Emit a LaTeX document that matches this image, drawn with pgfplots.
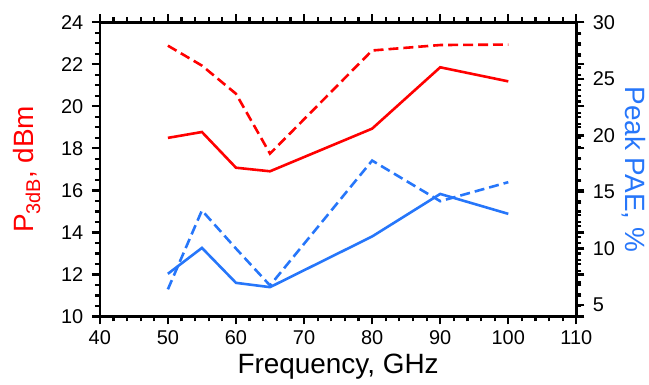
\documentclass[border={10pt 2pt 0pt 12pt}]{standalone}
\usepackage{pgfplots}
\pgfplotsset{compat=1.18}
\usepackage{fontspec}
\setmainfont{Liberation Sans}
\definecolor{myred}{RGB}{255,0,0}
\definecolor{myblue}{RGB}{38,118,250}
\begin{document}
\begin{tikzpicture}
\begin{axis}[
  scale only axis, width=478pt, height=295pt,
  xmin=40, xmax=110,
  ymin=10, ymax=24,
  axis line style={line width=2.4pt},
  tick align=outside,
  major tick length=8pt, minor tick length=5pt,
  every tick/.append style={line width=2.2pt, black},
  xtick={40,50,...,110}, minor x tick num=4,
  xticklabels={40,50,60,70,80,90,100,110},
  ytick={10,12,...,24}, minor y tick num=3,
  yticklabels={10,12,14,16,18,20,22,24},
  xticklabel shift=3pt, yticklabel shift=5pt,
  tick label style={font=\fontsize{20}{22}\selectfont},
  xlabel={Frequency, GHz},
  ylabel={\textcolor{myred}{P\raisebox{-0.45ex}{\fontsize{20}{22}\selectfont 3dB}, dBm}},
  xlabel style={font=\fontsize{28}{30}\selectfont, yshift=-2pt},
  ylabel style={font=\fontsize{28}{30}\selectfont, yshift=14pt},
]
\addplot[myred, line width=2.6pt] coordinates {
(50,18.5) (55,18.78) (60,17.08) (65,16.91) (80,18.94) (90,21.86) (100,21.19)};
\addplot[myred, line width=2.6pt, dash pattern=on 10pt off 5pt] coordinates {
(50,22.89) (55,21.94) (60,20.6) (65,17.75) (80,22.66) (90,22.92) (100,22.94)};
\end{axis}
\begin{axis}[
  scale only axis, width=478pt, height=295pt,
  xmin=40, xmax=110,
  ymin=4, ymax=30,
  axis x line=none,
  axis y line*=right,
  axis line style={line width=2.4pt, -},
  tick align=outside,
  major tick length=8pt, minor tick length=5pt,
  every tick/.append style={line width=2.2pt, black},
  ytick={5,10,...,30}, minor y tick num=4,
  yticklabels={5,10,15,20,25,30},
  yticklabel shift=5pt,
  tick label style={font=\fontsize{20}{22}\selectfont},
  ylabel={\textcolor{myblue}{Peak PAE, \%}},
  ylabel style={font=\fontsize{28}{30}\selectfont, rotate=180},
]
\addplot[myblue, line width=2.6pt] coordinates {
(50,7.77) (55,10.06) (60,6.97) (65,6.59) (80,11.07) (90,14.83) (100,13.07)};
\addplot[myblue, line width=2.6pt, dash pattern=on 10pt off 5pt] coordinates {
(50,6.4) (55,13.37) (60,10.0) (65,6.74) (80,17.78) (90,14.19) (100,15.87)};
\end{axis}
\end{tikzpicture}
\end{document}
